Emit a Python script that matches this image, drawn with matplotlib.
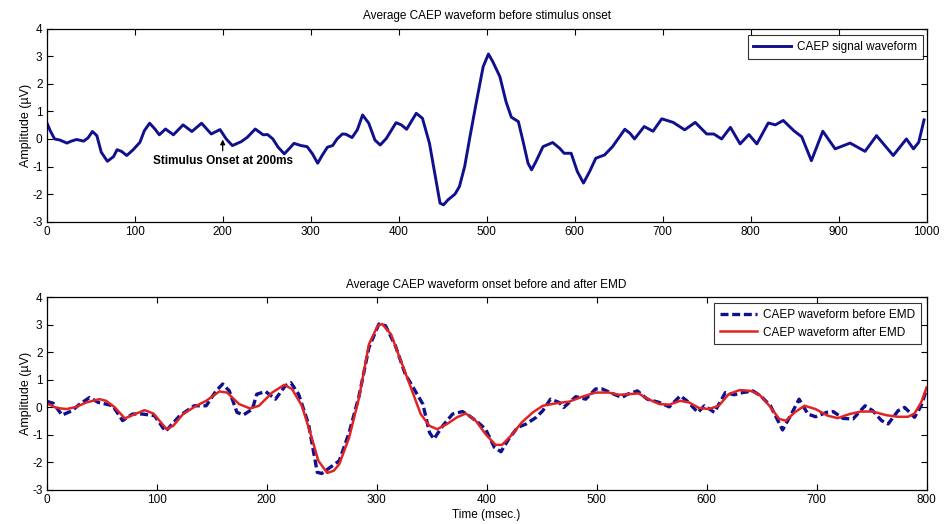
#!/usr/bin/env python3
"""
Average CAEP waveform before stimulus onset, and the same waveform
before / after EMD denoising (two stacked panels, MATLAB style).
"""

import matplotlib
matplotlib.use("Agg")
import matplotlib.pyplot as plt

plt.rcParams['font.family'] = ['Liberation Sans', 'DejaVu Sans']
plt.rcParams['axes.unicode_minus'] = False

# ---------------------------------------------------------------------------
# Data
# ---------------------------------------------------------------------------

# top panel: raw CAEP waveform, 0..1000 ms
t_top = [0, 4, 9, 15, 23, 28, 34, 42, 47, 52, 57, 62, 69, 76, 80, 85, 91, 98,
         106, 111, 117, 123, 128, 135, 144, 155, 165, 176, 187, 197, 204, 211,
         221, 228, 237, 246, 251, 257, 263, 270, 276, 281, 289, 296, 302, 308,
         313, 319, 325, 330, 336, 340, 347, 353, 359, 366, 373, 379, 386, 397,
         403, 409, 420, 427, 435, 441, 447, 451, 456, 464, 469, 475, 481, 488,
         496, 502, 507, 515, 522, 528, 536, 541, 547, 551, 556, 564, 575, 583,
         588, 596, 603, 610, 617, 624, 634, 643, 651, 657, 663, 668, 679, 689,
         699, 712, 725, 737, 750, 758, 767, 777, 788, 798, 807, 820, 828, 837,
         849, 858, 869, 882, 896, 913, 930, 943, 962, 977, 985, 991, 997]
v_top = [0.60, 0.30, 0.00, -0.04, -0.15, -0.08, -0.02, -0.08, 0.04, 0.27,
         0.12, -0.48, -0.81, -0.64, -0.39, -0.45, -0.60, -0.40, -0.12, 0.30,
         0.57, 0.36, 0.15, 0.36, 0.15, 0.51, 0.27, 0.57, 0.18, 0.34,
         0.00, -0.24, -0.10, 0.06, 0.36, 0.15, 0.16, 0.00, -0.30, -0.54,
         -0.34, -0.16, -0.24, -0.28, -0.54, -0.88, -0.60, -0.30, -0.24, 0.00,
         0.18, 0.17, 0.05, 0.33, 0.87, 0.57, -0.04, -0.22, 0.02, 0.59,
         0.51, 0.35, 0.93, 0.75, -0.16, -1.25, -2.33, -2.39, -2.21, -2.00,
         -1.73, -1.00, 0.08, 1.29, 2.62, 3.08, 2.80, 2.26, 1.35, 0.79,
         0.63, -0.04, -0.88, -1.12, -0.82, -0.28, -0.13, -0.34, -0.52, -0.52,
         -1.18, -1.60, -1.18, -0.70, -0.58, -0.28, 0.08, 0.35, 0.20, 0.00,
         0.45, 0.28, 0.73, 0.60, 0.33, 0.60, 0.18, 0.18, 0.00, 0.42,
         -0.18, 0.16, -0.18, 0.58, 0.51, 0.67, 0.30, 0.08, -0.79, 0.28,
         -0.36, -0.15, -0.45, 0.12, -0.60, 0.00, -0.36, -0.12, 0.69]

# bottom panel: waveform before EMD (dashed), 0..800 ms
t_before = [0, 6, 14, 23, 30, 39, 47, 54, 60, 69, 78, 87, 98, 108, 121, 134,
            145, 154, 160, 166, 173, 179, 187, 191, 199, 208, 217, 222, 229,
            238, 246, 250, 257, 266, 275, 284, 293, 302, 308, 317, 326, 335,
            342, 348, 352, 360, 369, 378, 384, 392, 399, 407, 413, 420, 428,
            436, 445, 451, 458, 466, 470, 481, 490, 499, 505, 514, 523, 528,
            537, 546, 557, 566, 576, 582, 592, 598, 607, 617, 625, 633, 642,
            649, 658, 664, 669, 677, 684, 692, 699, 709, 715, 724, 733, 744,
            751, 759, 765, 774, 780, 789, 795, 800]
v_before = [0.22, 0.15, -0.28, -0.12, 0.12, 0.36, 0.18, 0.12, 0.06, -0.48,
            -0.24, -0.24, -0.30, -0.87, -0.30, 0.06, 0.06, 0.60, 0.85, 0.60,
            -0.18, -0.27, -0.06, 0.48, 0.58, 0.30, 0.79, 0.90, 0.48, -0.60,
            -2.36, -2.40, -2.20, -1.94, -0.91, 0.42, 2.18, 3.03, 2.97, 2.24,
            1.21, 0.60, 0.12, -0.91, -1.15, -0.67, -0.24, -0.15, -0.30, -0.54,
            -0.79, -1.45, -1.61, -1.15, -0.73, -0.60, -0.36, -0.12, 0.30, 0.18,
            0.00, 0.39, 0.30, 0.67, 0.67, 0.51, 0.36, 0.48, 0.60, 0.30,
            0.18, 0.02, 0.42, 0.24, -0.18, 0.06, -0.18, 0.54, 0.46, 0.54,
            0.60, 0.42, 0.06, -0.42, -0.82, -0.24, 0.30, -0.24, -0.34, -0.18,
            -0.15, -0.40, -0.42, 0.06, -0.12, -0.48, -0.60, -0.12, 0.00, -0.36,
            0.06, 0.67]

# bottom panel: waveform after EMD (solid red)
t_after = [0, 9, 18, 27, 36, 48, 54, 62, 71, 78, 89, 97, 109, 115, 124, 136,
           145, 157, 164, 175, 185, 193, 205, 216, 223, 232, 240, 247, 255,
           261, 266, 275, 284, 293, 301, 305, 313, 322, 331, 340, 348, 355,
           364, 373, 381, 390, 399, 408, 414, 422, 432, 442, 451, 463, 475,
           487, 499, 511, 520, 529, 538, 547, 557, 566, 576, 584, 593, 602,
           611, 620, 630, 640, 648, 657, 666, 672, 680, 689, 699, 710, 719,
           730, 740, 751, 763, 774, 783, 789, 795, 800]
v_after = [0.15, -0.02, -0.06, 0.02, 0.18, 0.30, 0.24, 0.00, -0.40, -0.28,
           -0.10, -0.22, -0.79, -0.67, -0.24, 0.06, 0.24, 0.58, 0.54, 0.12,
           -0.04, 0.06, 0.54, 0.82, 0.67, 0.06, -0.97, -1.94, -2.38, -2.30,
           -2.06, -1.09, 0.36, 2.30, 2.97, 3.03, 2.66, 1.69, 0.73, -0.24,
           -0.67, -0.79, -0.60, -0.36, -0.22, -0.48, -0.97, -1.36, -1.36, -1.03,
           -0.54, -0.18, 0.06, 0.15, 0.21, 0.39, 0.54, 0.54, 0.46, 0.48,
           0.51, 0.30, 0.12, 0.10, 0.24, 0.18, -0.02, -0.06, 0.06, 0.48,
           0.63, 0.60, 0.46, 0.06, -0.42, -0.48, -0.18, 0.06, -0.06, -0.30,
           -0.39, -0.24, -0.15, -0.15, -0.28, -0.34, -0.34, -0.22, 0.18, 0.73]

top_xticks = list(range(0, 1001, 100))
bottom_xticks = list(range(0, 801, 100))
yticks = list(range(-3, 5))

BLUE = '#10108f'
RED = '#e02424'

# ---------------------------------------------------------------------------
# Figure
# ---------------------------------------------------------------------------

fig = plt.figure(figsize=(9.45, 5.24), dpi=100)
fig.patch.set_facecolor('white')

ax1 = fig.add_axes([0.0494, 0.577, 0.9312, 0.3683])
ax2 = fig.add_axes([0.0494, 0.0649, 0.9312, 0.3677])


def matlab_style(ax, xlim, xticks):
    ax.set_xlim(*xlim)
    ax.set_ylim(-3, 4)
    ax.set_xticks(xticks)
    ax.set_yticks(yticks)
    ax.tick_params(direction='in', top=True, right=True, length=4.5,
                   width=0.8, labelsize=8.5, pad=3)
    for sp in ax.spines.values():
        sp.set_linewidth(0.9)
    ax.set_ylabel('Amplitude (µV)', fontsize=9, labelpad=0)


# TOP PANEL
ax1.plot(t_top, v_top, color=BLUE, lw=2.1, label='CAEP signal waveform')
matlab_style(ax1, (0, 1000), top_xticks)
ax1.set_title('Average CAEP waveform before stimulus onset',
              fontsize=8.5, pad=7)
ax1.annotate('Stimulus Onset at 200ms', xy=(200, -0.02), xytext=(200, -0.8),
             ha='center', va='center', fontsize=8.5, fontweight='bold',
             arrowprops=dict(arrowstyle='-|>', lw=0.9, color='black',
                             mutation_scale=7, shrinkA=1, shrinkB=0))
leg1 = ax1.legend(loc='upper right', bbox_to_anchor=(0.996, 0.967),
                  borderaxespad=0, fancybox=False, fontsize=8.5,
                  handlelength=3.2, handletextpad=0.5, borderpad=0.5)
leg1.get_frame().set_edgecolor('black')
leg1.get_frame().set_linewidth(0.8)

# BOTTOM PANEL
ax2.plot(t_before, v_before, color=BLUE, lw=2.4, dashes=(2.4, 1.1),
         label='CAEP waveform before EMD')
ax2.plot(t_after, v_after, color=RED, lw=1.8, label='CAEP waveform after EMD')
matlab_style(ax2, (0, 800), bottom_xticks)
ax2.set_title('Average CAEP waveform onset before and after EMD',
              fontsize=8.5, pad=7)
ax2.set_xlabel('Time (msec.)', fontsize=8.5, labelpad=2)
leg2 = ax2.legend(loc='upper right', bbox_to_anchor=(0.994, 0.969),
                  borderaxespad=0, fancybox=False, fontsize=8.5,
                  handlelength=3.2, handletextpad=0.5, borderpad=0.5,
                  labelspacing=0.45)
leg2.get_frame().set_edgecolor('black')
leg2.get_frame().set_linewidth(0.8)

fig.savefig('out.png', dpi=100, facecolor='white')
